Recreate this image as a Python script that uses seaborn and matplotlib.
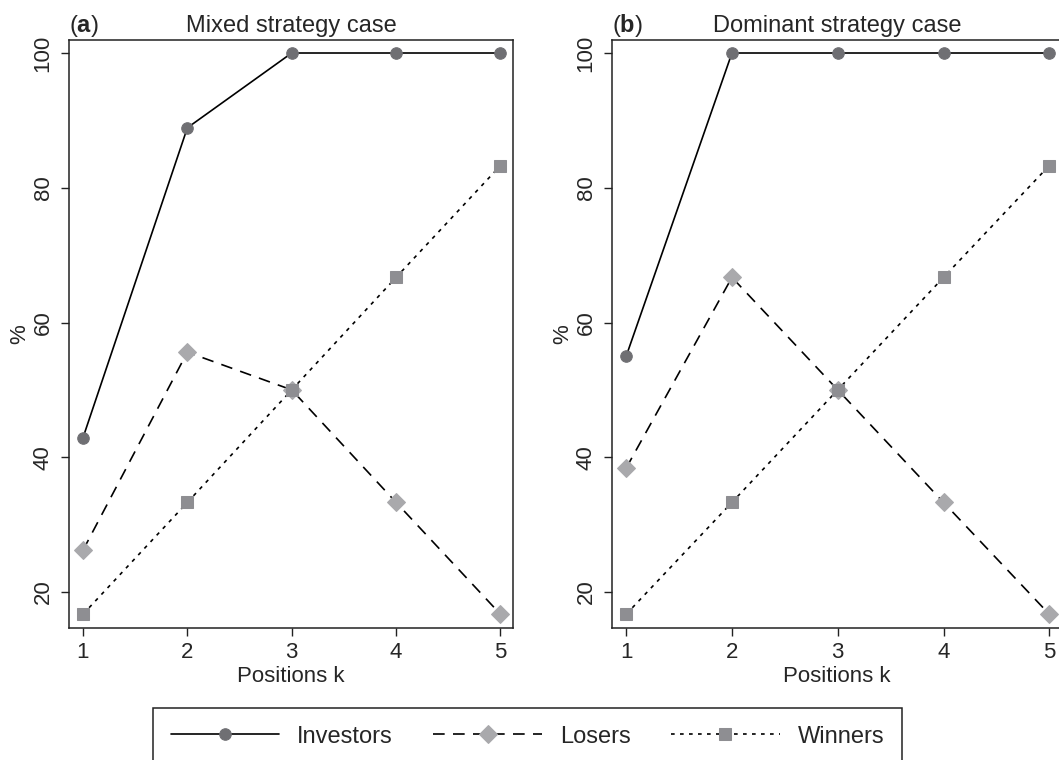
import matplotlib
matplotlib.use("Agg")
import matplotlib.pyplot as plt
import pandas as pd
import seaborn as sns

positions = [1, 2, 3, 4, 5]
series_names = ["Investors", "Losers", "Winners"]

mixed_investors = [42.9, 88.9, 100.0, 100.0, 100.0]
mixed_losers = [26.2, 55.6, 50.0, 33.3, 16.7]
mixed_winners = [16.7, 33.3, 50.0, 66.7, 83.3]

dominant_investors = [55.0, 100.0, 100.0, 100.0, 100.0]
dominant_losers = [38.4, 66.7, 50.0, 33.3, 16.7]
dominant_winners = [16.7, 33.3, 50.0, 66.7, 83.3]

x_ticks = [1, 2, 3, 4, 5]
y_ticks = [20, 40, 60, 80, 100]

sns.set_style("ticks")
plt.rcParams["font.family"] = ["Liberation Sans", "DejaVu Sans"]
plt.rcParams["mathtext.fontset"] = "custom"
plt.rcParams["mathtext.rm"] = "Liberation Sans"
plt.rcParams["mathtext.bf"] = "Liberation Sans:bold"

# line style / marker per series
styles = {
    "Investors": dict(linestyle="-", marker="o", markersize=8.3, mfc="#6f6f73"),
    "Losers": dict(linestyle=(0, (7, 5)), marker="D", markersize=8.8, mfc="#a9a9ac"),
    "Winners": dict(linestyle=(0, (2.2, 3.2)), marker="s", markersize=8.3, mfc="#8e8e92"),
}


def draw_panel(ax, values, letter, title):
    for name, vals in zip(series_names, values):
        df = pd.DataFrame({"k": positions, "pct": vals})
        st = styles[name]
        sns.lineplot(data=df, x="k", y="pct", ax=ax, color="black", lw=1.2,
                     linestyle=st["linestyle"], marker=st["marker"],
                     markersize=st["markersize"], markerfacecolor=st["mfc"],
                     markeredgecolor=st["mfc"], label=name)
    ax.set_xlim(0.866, 5.12)
    ax.set_ylim(14.66, 101.93)
    ax.set_xticks(x_ticks)
    ax.set_yticks(y_ticks)
    ax.tick_params(axis="both", length=6, width=1.0, labelsize=16, color="#222222")
    ax.tick_params(axis="x", pad=4)
    ax.tick_params(axis="y", pad=5)
    for lab in ax.get_yticklabels():
        lab.set_rotation(90)
        lab.set_va("center")
    for sp in ax.spines.values():
        sp.set_visible(True)
        sp.set_linewidth(1.1)
        sp.set_color("#222222")
    ax.set_xlabel("Positions k", fontsize=16, labelpad=2)
    ax.set_ylabel("%", fontsize=16, labelpad=2)
    ax.set_title(title, fontsize=17, pad=6)
    ax.set_title("($\\mathbf{%s}$)" % letter, fontsize=17, pad=6, loc="left")
    ax.get_legend().remove()


fig = plt.figure(figsize=(10.59, 7.6), dpi=100)
ax1 = fig.add_axes([69 / 1059, 132 / 760, 444 / 1059, 588 / 760])
ax2 = fig.add_axes([612 / 1059, 132 / 760, 450 / 1059, 588 / 760])

draw_panel(ax1, [mixed_investors, mixed_losers, mixed_winners], "a", "Mixed strategy case")
draw_panel(ax2, [dominant_investors, dominant_losers, dominant_winners], "b", "Dominant strategy case")

handles, labels = ax1.get_legend_handles_labels()
leg = fig.legend(handles, labels, loc="upper left", ncol=3, mode="expand",
                 bbox_to_anchor=(153 / 1059, 0, 749 / 1059, 52 / 760),
                 fontsize=17, handlelength=4.6, handletextpad=0.76,
                 borderaxespad=0, borderpad=0.75, fancybox=False, frameon=True)
leg.get_frame().set_edgecolor("#222222")
leg.get_frame().set_linewidth(1.1)
leg.get_frame().set_alpha(1)

fig.savefig("out.png", dpi=100)
